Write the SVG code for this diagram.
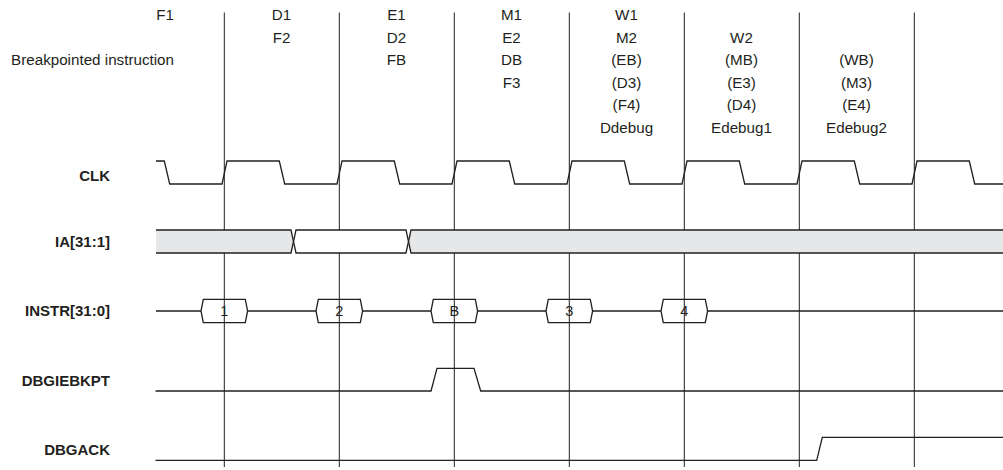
<svg xmlns="http://www.w3.org/2000/svg" width="1003" height="470" viewBox="0 0 1003 470">
<style>
.t{font-family:"Liberation Sans",Arial,sans-serif;font-size:15.2px;fill:#231f20}
.c{text-anchor:middle}
.e{text-anchor:end}
.lbl{font-family:"Liberation Sans",Arial,sans-serif;font-size:15px;font-weight:bold;fill:#231f20;text-anchor:end}
.grid{stroke:#231f20;stroke-width:1;fill:none}
.sig{stroke:#231f20;stroke-width:1.3;fill:none;stroke-linejoin:miter}
.bus{stroke:#231f20;stroke-width:1.3;fill:#e6e7e8}
.busw{stroke:#231f20;stroke-width:1.3;fill:#fff}
.hex{stroke:#231f20;stroke-width:1.3;fill:#fff}
.num{font-family:"Liberation Sans",Arial,sans-serif;font-size:14.5px;fill:#231f20;text-anchor:middle}
</style>
<rect width="1003" height="470" fill="#fff"/>

<g id="stages">
<text class="t e" x="174" y="20">F1</text>
<text class="t e" x="174" y="65.2">Breakpointed instruction</text>
<text class="t c" x="281.5" y="20">D1</text>
<text class="t c" x="281.5" y="42.6">F2</text>
<text class="t c" x="396.5" y="20">E1</text>
<text class="t c" x="396.5" y="42.6">D2</text>
<text class="t c" x="396.5" y="65.2">FB</text>
<text class="t c" x="511.5" y="20">M1</text>
<text class="t c" x="511.5" y="42.6">E2</text>
<text class="t c" x="511.5" y="65.2">DB</text>
<text class="t c" x="511.5" y="87.8">F3</text>
<text class="t c" x="626.5" y="20">W1</text>
<text class="t c" x="626.5" y="42.6">M2</text>
<text class="t c" x="626.5" y="65.2">(EB)</text>
<text class="t c" x="626.5" y="87.8">(D3)</text>
<text class="t c" x="626.5" y="110.4">(F4)</text>
<text class="t c" x="626.5" y="133">Ddebug</text>
<text class="t c" x="741.5" y="42.6">W2</text>
<text class="t c" x="741.5" y="65.2">(MB)</text>
<text class="t c" x="741.5" y="87.8">(E3)</text>
<text class="t c" x="741.5" y="110.4">(D4)</text>
<text class="t c" x="741.5" y="133">Edebug1</text>
<text class="t c" x="856.5" y="65.2">(WB)</text>
<text class="t c" x="856.5" y="87.8">(M3)</text>
<text class="t c" x="856.5" y="110.4">(E4)</text>
<text class="t c" x="856.5" y="133">Edebug2</text>
</g>

<g id="grid-lines" class="grid">
<line x1="224.3" y1="12.5" x2="224.3" y2="467"/>
<line x1="339.3" y1="12.5" x2="339.3" y2="467"/>
<line x1="454.3" y1="12.5" x2="454.3" y2="467"/>
<line x1="569.3" y1="12.5" x2="569.3" y2="467"/>
<line x1="684.3" y1="12.5" x2="684.3" y2="467"/>
<line x1="799.3" y1="12.5" x2="799.3" y2="467"/>
<line x1="914.3" y1="12.5" x2="914.3" y2="467"/>
</g>

<g id="labels">
<text class="lbl" x="110" y="181">CLK</text>
<text class="lbl" x="110" y="247">IA[31:1]</text>
<text class="lbl" x="110" y="316">INSTR[31:0]</text>
<text class="lbl" x="110" y="386">DBGIEBKPT</text>
<text class="lbl" x="110" y="455">DBGACK</text>
</g>

<g id="clk">
<path class="sig" d="M156,161 H164.3 L169.7,184 H222 L227,161 H279.3 L284.7,184 H337 L342,161 H394.3 L399.7,184 H452 L457,161 H509.3 L514.7,184 H567 L572,161 H624.3 L629.7,184 H682 L687,161 H739.3 L744.7,184 H797 L802,161 H854.3 L859.7,184 H912 L917,161 H969.3 L974.7,184 H1003"/>
</g>

<g id="ia">
<path class="bus" d="M156,230 H291 L293.5,241.5 L291,253 H156"/>
<path class="busw" d="M293.5,241.5 L296,230 H406 L408.5,241.5 L406,253 H296 Z"/>
<path class="bus" d="M1004,230 H411 L408.5,241.5 L411,253 H1004"/>
</g>

<g id="instr">
<path class="sig" d="M156,311 H201 M247.6,311 H316 M362.6,311 H431 M477.6,311 H546 M592.6,311 H661 M707.6,311 H1003"/>
<polygon class="hex" points="201,311 203.3,299.3 245.3,299.3 247.6,311 245.3,322.7 203.3,322.7"/>
<polygon class="hex" points="316,311 318.3,299.3 360.3,299.3 362.6,311 360.3,322.7 318.3,322.7"/>
<polygon class="hex" points="431,311 433.3,299.3 475.3,299.3 477.6,311 475.3,322.7 433.3,322.7"/>
<polygon class="hex" points="546,311 548.3,299.3 590.3,299.3 592.6,311 590.3,322.7 548.3,322.7"/>
<polygon class="hex" points="661,311 663.3,299.3 705.3,299.3 707.6,311 705.3,322.7 663.3,322.7"/>
<line class="grid" x1="224.3" y1="299" x2="224.3" y2="323"/>
<line class="grid" x1="339.3" y1="299" x2="339.3" y2="323"/>
<line class="grid" x1="454.3" y1="299" x2="454.3" y2="323"/>
<line class="grid" x1="569.3" y1="299" x2="569.3" y2="323"/>
<line class="grid" x1="684.3" y1="299" x2="684.3" y2="323"/>
<text class="num" x="224.3" y="316.2">1</text>
<text class="num" x="339.3" y="316.2">2</text>
<text class="num" x="454.3" y="316.2">B</text>
<text class="num" x="569.3" y="316.2">3</text>
<text class="num" x="684.3" y="316.2">4</text>
</g>

<g id="dbgiebkpt">
<path class="sig" d="M155.5,391 H431 L437,368.3 H474 L480.7,391 H1003"/>
</g>

<g id="dbgack">
<path class="sig" d="M155.5,460.3 H816.7 L822.3,437.3 H1003"/>
</g>
</svg>
